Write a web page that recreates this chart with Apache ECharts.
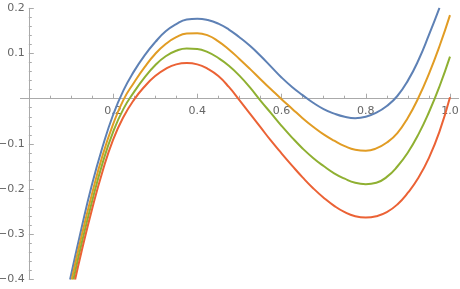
<!DOCTYPE html>
<html>
<head>
<meta charset="utf-8">
<script src="https://cdn.jsdelivr.net/npm/echarts@6/dist/echarts.min.js"></script>
<style>html,body{margin:0;padding:0;background:#fff}#c{width:460px;height:289px}</style>
</head>
<body>
<div id="c"></div>
<script>
// Values: [x, y]
const blue = [[0.098,-0.40],[0.125,-0.287],[0.15,-0.190],[0.175,-0.107],[0.2,-0.036],[0.225,0.019],[0.25,0.061],[0.275,0.096],[0.3,0.125],[0.325,0.149],[0.35,0.165],[0.375,0.175],[0.4,0.177],[0.425,0.174],[0.45,0.166],[0.475,0.153],[0.5,0.136],[0.525,0.117],[0.55,0.095],[0.575,0.071],[0.6,0.047],[0.625,0.026],[0.65,0.008],[0.675,-0.009],[0.7,-0.023],[0.725,-0.033],[0.75,-0.040],[0.775,-0.043],[0.8,-0.040],[0.825,-0.031],[0.85,-0.016],[0.875,0.006],[0.9,0.040],[0.925,0.085],[0.95,0.141],[0.975,0.201]];
const orange = [[0.102,-0.40],[0.125,-0.305],[0.15,-0.211],[0.175,-0.126],[0.2,-0.057],[0.225,-0.002],[0.25,0.036],[0.275,0.070],[0.3,0.099],[0.325,0.121],[0.35,0.136],[0.375,0.144],[0.4,0.145],[0.425,0.140],[0.45,0.127],[0.475,0.109],[0.5,0.088],[0.525,0.066],[0.55,0.043],[0.575,0.021],[0.6,-0.001],[0.625,-0.022],[0.65,-0.043],[0.675,-0.062],[0.7,-0.079],[0.725,-0.093],[0.75,-0.105],[0.775,-0.113],[0.8,-0.115],[0.825,-0.110],[0.85,-0.097],[0.875,-0.076],[0.9,-0.042],[0.925,0.002],[0.95,0.055],[0.975,0.116],[1.0,0.185]];
const green = [[0.106,-0.40],[0.125,-0.322],[0.15,-0.228],[0.175,-0.143],[0.2,-0.074],[0.225,-0.022],[0.25,0.015],[0.275,0.047],[0.3,0.074],[0.325,0.094],[0.35,0.106],[0.375,0.111],[0.4,0.110],[0.425,0.103],[0.45,0.090],[0.475,0.073],[0.5,0.051],[0.525,0.025],[0.55,-0.004],[0.575,-0.032],[0.6,-0.060],[0.625,-0.086],[0.65,-0.110],[0.675,-0.131],[0.7,-0.149],[0.725,-0.165],[0.75,-0.177],[0.775,-0.186],[0.8,-0.189],[0.825,-0.186],[0.85,-0.173],[0.875,-0.150],[0.9,-0.119],[0.925,-0.079],[0.95,-0.030],[0.975,0.027],[1.0,0.093]];
const red = [[0.110,-0.40],[0.125,-0.339],[0.15,-0.245],[0.175,-0.161],[0.2,-0.091],[0.225,-0.040],[0.25,-0.002],[0.275,0.027],[0.3,0.050],[0.325,0.066],[0.35,0.076],[0.375,0.079],[0.4,0.076],[0.425,0.066],[0.45,0.050],[0.475,0.026],[0.5,-0.003],[0.525,-0.033],[0.55,-0.063],[0.575,-0.093],[0.6,-0.121],[0.625,-0.148],[0.65,-0.174],[0.675,-0.198],[0.7,-0.219],[0.725,-0.237],[0.75,-0.251],[0.775,-0.260],[0.8,-0.263],[0.825,-0.260],[0.85,-0.251],[0.875,-0.234],[0.9,-0.208],[0.925,-0.175],[0.95,-0.131],[0.975,-0.073],[1.0,0.003]];
const seriesList = [blue, orange, green, red];
const colors = ['#5E81B5', '#E19C24', '#8FB032', '#EB6235'];
const xTickLabels = ['0.2', '0.4', '0.6', '0.8', '1.0'];
const yTickLabels = ['0.2', '0.1', '−0.1', '−0.2', '−0.3', '−0.4'];

const axisColor = '#aaaaaa';
const labelColor = '#666666';
const font = 'DejaVu Sans';
const W = 460, H = 289;
const plotTop = 8.3, plotBottom = 9.5;      // y = 0.2 .. -0.4
const yMin = -0.4, yMax = 0.2;
// distance of the y = 0 line from the bottom, used to put the x axis on the zero line
const zeroFromBottom = plotBottom + (H - plotTop - plotBottom) * (0 - yMin) / (yMax - yMin);

function fmt(v) {
  if (Math.abs(v) < 1e-9) return '';
  return v.toFixed(1).replace('-', '−');
}
const hidden = {show: false};
const chart = echarts.init(document.getElementById('c'), null, {renderer: 'canvas'});
chart.setOption({
  animation: false,
  grid: [
    // data grid
    {left: 28.8, right: 10, top: plotTop, bottom: plotBottom, outerBoundsMode: 'none', containLabel: false},
    // long x axis line (plot range padding)
    {left: 20.4, right: 1.4, top: plotTop, bottom: zeroFromBottom, outerBoundsMode: 'none', containLabel: false},
    // ticks and labels of the x axis at y = 0
    {left: 28.8, right: 10, top: plotTop, bottom: zeroFromBottom, outerBoundsMode: 'none', containLabel: false}
  ],
  xAxis: [
    {type: 'value', gridIndex: 0, min: 0, max: 1, axisLine: hidden, axisTick: hidden, axisLabel: hidden, splitLine: hidden},
    {type: 'value', gridIndex: 1, position: 'bottom', min: -0.02, max: 1.02,
     axisLine: {show: true, onZero: false, lineStyle: {color: axisColor, width: 1}},
     axisTick: hidden, axisLabel: hidden, splitLine: hidden},
    {type: 'value', gridIndex: 2, position: 'bottom', min: 0, max: 1, interval: 0.2,
     axisLine: {show: false, onZero: false},
     axisTick: {show: true, inside: true, length: 5, lineStyle: {color: axisColor}},
     minorTick: {show: true, splitNumber: 4, length: 3, lineStyle: {color: axisColor}},
     splitLine: hidden, minorSplitLine: hidden,
     axisLabel: {formatter: fmt, color: labelColor, fontSize: 11, fontFamily: font, margin: 7, hideOverlap: false}}
  ],
  yAxis: [
    {type: 'value', gridIndex: 0, position: 'left', min: yMin, max: yMax, interval: 0.1,
     axisLine: {show: true, onZero: false, lineStyle: {color: axisColor, width: 1}},
     axisTick: {show: true, inside: true, length: 5, lineStyle: {color: axisColor}},
     minorTick: {show: true, splitNumber: 5, length: 3, lineStyle: {color: axisColor}},
     splitLine: hidden, minorSplitLine: hidden,
     axisLabel: {formatter: fmt, color: labelColor, fontSize: 11, fontFamily: font, margin: 4, hideOverlap: false}},
    {type: 'value', gridIndex: 1, min: 0, max: 1, axisLine: hidden, axisTick: hidden, axisLabel: hidden, splitLine: hidden},
    {type: 'value', gridIndex: 2, min: 0, max: 1, axisLine: hidden, axisTick: hidden, axisLabel: hidden, splitLine: hidden}
  ],
  series: seriesList.map((d, i) => ({
    type: 'line', xAxisIndex: 0, yAxisIndex: 0, data: d,
    showSymbol: false, smooth: 0.5, clip: true,
    lineStyle: {color: colors[i], width: 2}, itemStyle: {color: colors[i]}, z: 3
  }))
});
</script>
</body>
</html>
